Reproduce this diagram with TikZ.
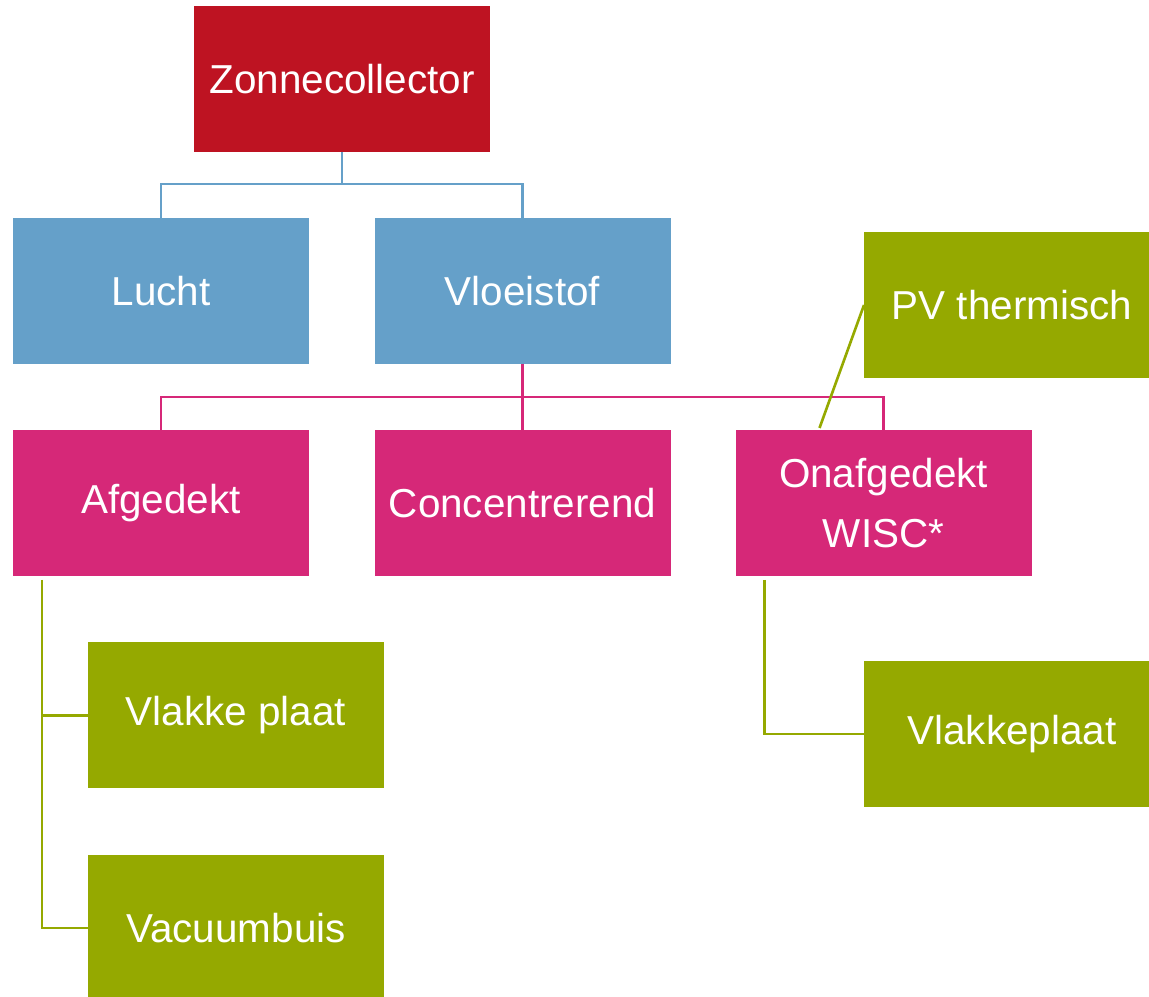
\documentclass[tikz,border=0pt]{standalone}
\usepackage{fontspec}
\setmainfont{Liberation Sans}
\usepackage{tikz}
\usetikzlibrary{positioning}
\definecolor{zred}{RGB}{190,19,34}
\definecolor{zblue}{RGB}{101,160,201}
\definecolor{zpink}{RGB}{214,40,120}
\definecolor{zgreen}{RGB}{149,169,0}

\begin{document}
\begin{tikzpicture}[line width=0.75pt]
\tikzstyle{box}=[rectangle,inner sep=0pt,outer sep=0pt,minimum width=2.96cm,minimum height=1.46cm,align=center,text=white,font=\fontsize{11.5}{17}\selectfont]
\tikzstyle{redbox}=[box,fill=zred]
\tikzstyle{bluebox}=[box,fill=zblue]
\tikzstyle{pinkbox}=[box,fill=zpink]
\tikzstyle{greenbox}=[box,fill=zgreen]
\useasboundingbox (0,0) rectangle (11.49,-9.97);
\begin{scope}
\clip (0,0) rectangle (11.49,-9.97);
\node[redbox] (zonne) at (3.42,-0.79) {Zonnecollector};
\node[bluebox] (lucht) at (1.61,-2.91) {Lucht};
\node[bluebox] (vloei) at (5.225,-2.91) {Vloeistof};
\node[pinkbox] (afged) at (1.61,-5.03) {Afgedekt};
\node[pinkbox] (conc) at (5.225,-5.03) {Concentrerend};
\node[pinkbox] (onaf) at (8.835,-5.03) {Onafgedekt\\WISC*};
\node[greenbox] (pv) at (10.12,-3.05) {PV thermisch};
\node[greenbox] (vlak) at (2.36,-7.155) {Vlakke plaat};
\node[greenbox] (vacuum) at (2.36,-9.28) {Vacuumbuis};
\node[greenbox] (vlakke) at (10.12,-7.34) {Vlakkeplaat};
\end{scope}
% tree lines
\draw[zblue] (zonne.south) -- ++(0,-0.32) -| (lucht.north);
\draw[zblue] (zonne.south) -- ++(0,-0.32) -| (vloei.north);
\draw[zpink] (vloei.south) -- ++(0,-0.33) -| (afged.north);
\draw[zpink] (vloei.south) -- (conc.north);
\draw[zpink] (vloei.south) -- ++(0,-0.33) -| (onaf.north);
\draw[zgreen] ([xshift=0.84cm,yshift=0.02cm]onaf.north west) -- (pv.west);
\draw[zgreen] ([xshift=0.29cm,yshift=-0.04cm]afged.south west) |- (vlak.west);
\draw[zgreen] ([xshift=0.29cm,yshift=-0.04cm]afged.south west) |- (vacuum.west);
\draw[zgreen] ([xshift=0.29cm,yshift=-0.04cm]onaf.south west) |- (vlakke.west);
\end{tikzpicture}
\end{document}
